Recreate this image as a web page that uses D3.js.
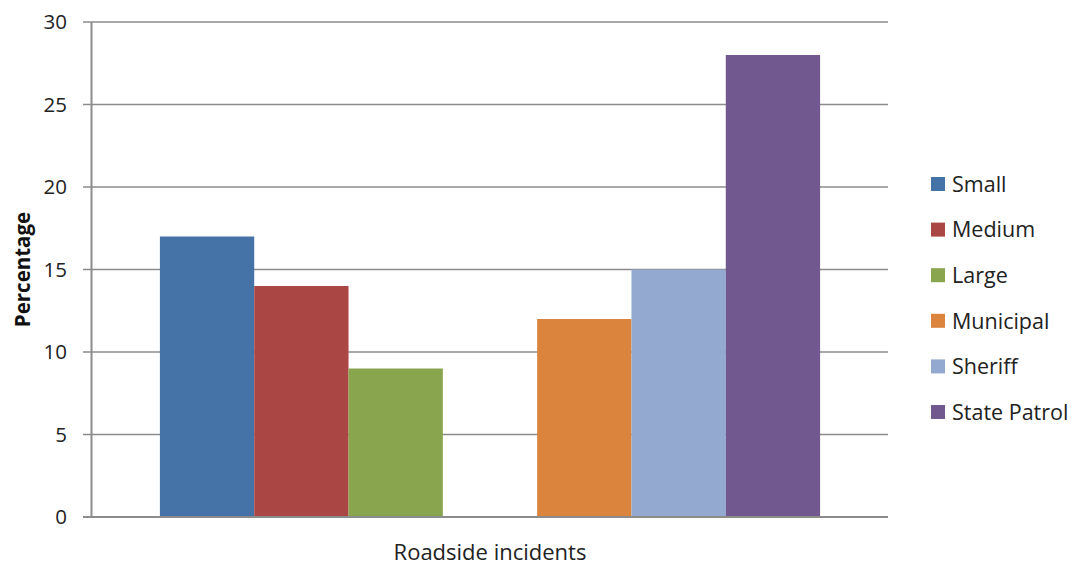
<!DOCTYPE html>
<html>
<head>
<meta charset="utf-8">
<script src="https://cdn.jsdelivr.net/npm/d3@7"></script>
<style>
  html, body { margin: 0; padding: 0; background: #fff; }
  svg { display: block; font-family: "Open Sans", "Lato", sans-serif; }
</style>
</head>
<body>
<svg id="chart" width="1073" height="565"></svg>
<script>
const category = "Roadside incidents";
const seriesNames = ["Small", "Medium", "Large", "Municipal", "Sheriff", "State Patrol"];
const seriesValues = [17, 14, 9, 12, 15, 28];
const seriesColors = ["#4572A7", "#AA4643", "#89A54E", "#DB843D", "#93A9CF", "#71588F"];
const yTicks = [0, 5, 10, 15, 20, 25, 30];
// slot layout: three agency sizes, an empty slot, then three agency types
const slots = ["Small", "Medium", "Large", "__gap__", "Municipal", "Sheriff", "State Patrol"];

(function () {
const svg = d3.select("#chart");
const pLeft = 92, pRight = 888, pTop = 22, pBottom = 517;

const y = d3.scaleLinear().domain([0, 30]).range([pBottom, pTop]);
const x = d3.scaleBand().domain(slots).range([pLeft, pRight]).paddingInner(0).paddingOuter(0.72);

// gridlines + tick marks
svg.append("g").selectAll("line").data(yTicks).join("line")
  .attr("x1", pLeft - 9).attr("x2", pRight)
  .attr("y1", d => y(d)).attr("y2", d => y(d))
  .attr("stroke", "#8c8c8c").attr("stroke-width", 1.3);

// bars
const data = seriesNames.map((n, i) => ({ name: n, value: seriesValues[i], color: seriesColors[i] }));
svg.append("g").selectAll("rect").data(data).join("rect")
  .attr("x", d => x(d.name))
  .attr("width", x.bandwidth())
  .attr("y", d => y(d.value))
  .attr("height", d => y(0) - y(d.value))
  .attr("fill", d => d.color);

// axis lines
svg.append("line").attr("x1", pLeft - 0.5).attr("x2", pLeft - 0.5).attr("y1", pTop).attr("y2", pBottom + 1)
  .attr("stroke", "#8c8c8c").attr("stroke-width", 2);
svg.append("line").attr("x1", pLeft - 9).attr("x2", pRight).attr("y1", pBottom).attr("y2", pBottom)
  .attr("stroke", "#8c8c8c").attr("stroke-width", 2);

// y tick labels
svg.append("g").selectAll("text").data(yTicks).join("text")
  .attr("x", 67).attr("y", d => y(d))
  .attr("dy", "0.36em")
  .attr("text-anchor", "end")
  .attr("font-size", 20.5)
  .attr("fill", "#222")
  .text(d => d);

// y axis title
svg.append("text")
  .attr("transform", `translate(30,${(pTop + pBottom) / 2}) rotate(-90)`)
  .attr("text-anchor", "middle")
  .attr("font-size", 20.5)
  .attr("font-weight", "bold")
  .attr("fill", "#111")
  .text("Percentage");

// x category label
svg.append("text")
  .attr("x", (pLeft + pRight) / 2).attr("y", 560)
  .attr("text-anchor", "middle")
  .attr("font-size", 22)
  .attr("fill", "#222")
  .text(category);

// legend
const lg = svg.append("g").selectAll("g").data(data).join("g")
  .attr("transform", (d, i) => `translate(931,${184 + i * 45.6})`);
lg.append("rect").attr("x", 0).attr("y", -7).attr("width", 14).attr("height", 14).attr("fill", d => d.color);
lg.append("text").attr("x", 21).attr("y", 0).attr("dy", "0.36em")
  .attr("font-size", 21.5).attr("fill", "#222").text(d => d.name);
})();
</script>
</body>
</html>
